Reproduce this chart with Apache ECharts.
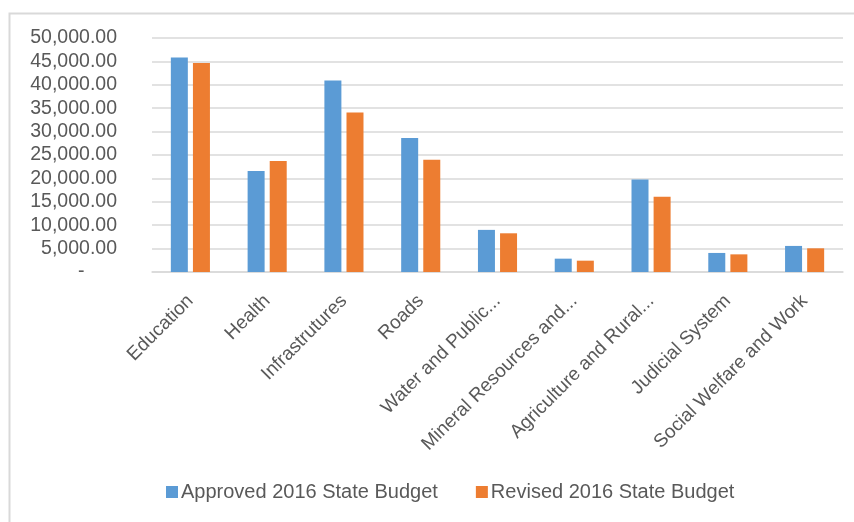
<!DOCTYPE html>
<html>
<head>
<meta charset="utf-8">
<script src="https://cdn.jsdelivr.net/npm/echarts@6/dist/echarts.min.js"></script>
<style>
    html, body {margin: 0; padding: 0; background: #fff;}
    #container {width: 854px; height: 522px;}
</style>
</head>
<body>
<div id="container"></div>
<script>
// budget by sector
let categories = ['Education', 'Health', 'Infrastrutures', 'Roads', 'Water and Public...',
    'Mineral Resources and...', 'Agriculture and Rural...', 'Judicial System', 'Social Welfare and Work'];
let approved = [45860, 21560, 40930, 28630, 9000, 2850, 19780, 4070, 5570];
let revised = [44640, 23700, 34070, 24000, 8270, 2420, 16070, 3770, 5060];
let seriesNames = ['Approved 2016 State Budget', 'Revised 2016 State Budget'];

let dom = document.getElementById("container");
let myChart = echarts.init(dom);
let font = 'Liberation Sans';

option = {
    textStyle: {fontFamily: font},
    color: ['#5b9bd5', '#ed7d31'],
    graphic: [{
        type: 'polyline',
        shape: {points: [[9.5, 522], [9.5, 13.5], [854, 13.5]]},
        style: {stroke: '#d9d9d9', lineWidth: 2, fill: null},
        silent: true
    }],
    legend: {
        data: seriesNames,
        bottom: 15,
        left: 161,
        itemWidth: 12,
        itemHeight: 12,
        itemGap: 38,
        icon: 'rect',
        textStyle: {color: '#595959', fontSize: 20, fontFamily: font, padding: [0, 0, 0, -2]}
    },
    grid: {
        left: 152,
        right: 11,
        top: 38,
        bottom: 250
    },
    xAxis: {
        type: 'category',
        data: categories,
        axisLine: {lineStyle: {color: '#d9d9d9', width: 1.5}},
        axisTick: {show: false},
        axisLabel: {
            rotate: 45,
            interval: 0,
            color: '#595959',
            fontSize: 19,
            margin: 26
        }
    },
    yAxis: {
        type: 'value',
        min: 0,
        max: 50000,
        interval: 5000,
        axisLine: {show: false},
        axisTick: {show: false},
        splitLine: {lineStyle: {color: '#d9d9d9', width: 1.5}},
        axisLabel: {
            color: '#595959',
            fontSize: 19.5,
            margin: 35,
            formatter: function (v) {
                if (v === 0) return '-      ';
                return v.toLocaleString('en-US', {minimumFractionDigits: 2, maximumFractionDigits: 2});
            }
        }
    },
    series: [
        {
            name: seriesNames[0],
            type: 'bar',
            data: approved,
            barWidth: 17,
            barGap: '30%'
        },
        {
            name: seriesNames[1],
            type: 'bar',
            data: revised,
            barWidth: 17,
            barGap: '30%'
        }
    ]
};
if (option && typeof option === "object") {
    myChart.setOption(option, true);
}
window.onresize = function () {
    myChart.resize();
}
</script>
</body>
</html>
